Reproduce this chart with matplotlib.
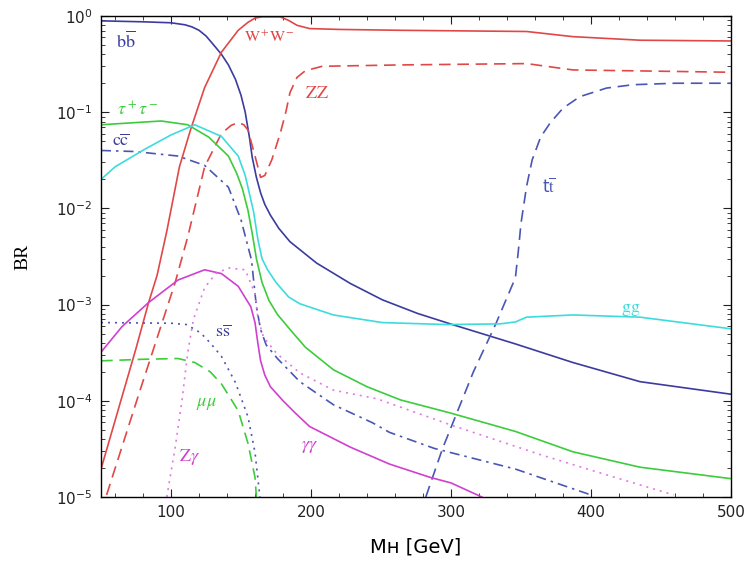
import numpy as np
import matplotlib.pyplot as plt
from matplotlib.ticker import MultipleLocator, LogLocator, NullFormatter

plt.rcParams['mathtext.fontset'] = 'stix'

# --- data (MH in GeV, branching ratio) ---
bb_x = [50, 80, 100, 110, 115, 120, 125, 129, 132, 136, 141, 146, 150, 153, 156, 158, 161, 164, 167, 171, 177, 185, 204, 228,
        251, 276, 301, 346, 387, 435, 500]
bb_y = [0.89, 0.87, 0.85, 0.81, 0.77, 0.71, 0.62, 0.53, 0.47, 0.40, 0.31, 0.22, 0.15, 0.1, 0.055, 0.034, 0.021, 0.0145, 0.011,
        0.0085, 0.0062, 0.0045, 0.0027, 0.00166, 0.00112, 0.00081, 0.00062, 0.00039, 0.00025, 0.000158, 0.000117]

ww_x = [50, 75, 84, 90, 97, 106, 114, 124, 136, 148, 155, 160, 165, 178, 184, 190, 199, 220, 264, 354, 387, 435, 500]
ww_y = [1.95e-5, 3.5e-4, 1.05e-3, 2.0e-3, 5.8e-3, 0.027, 0.066, 0.18, 0.42, 0.71, 0.86, 0.95, 0.98, 0.98, 0.9, 0.8, 0.74,
        0.725, 0.71, 0.69, 0.61, 0.56, 0.55]

zz_x = [54, 78, 103, 112, 124, 136, 143, 148, 152, 155, 160, 164, 167, 172, 178, 182, 185, 190, 196, 208, 264, 354, 387, 500]
zz_y = [1.05e-5, 1.3e-4, 1.7e-3, 5.1e-3, 0.027, 0.06, 0.073, 0.078, 0.074, 0.065, 0.035, 0.021, 0.022, 0.032, 0.06, 0.1, 0.16,
        0.23, 0.27, 0.30, 0.31, 0.32, 0.275, 0.26]

tt_x = [282, 294, 316, 332, 346, 348, 350, 354, 358, 364, 371, 380, 392, 411, 430, 460, 500]
tt_y = [1.0e-5, 3.2e-5, 2.0e-4, 6.3e-4, 1.9e-3, 3.5e-3, 7e-3, 0.017, 0.032, 0.055, 0.078, 0.11, 0.145, 0.178, 0.193, 0.2, 0.2]

tau_x = [50, 93, 112, 127, 141, 147, 151, 155, 158, 161, 165, 170, 176, 186, 196, 216, 240, 264, 299, 346, 387, 435, 500]
tau_y = [0.074, 0.081, 0.074, 0.055, 0.035, 0.023, 0.016, 0.0095, 0.0055, 0.003, 0.0017, 0.0011, 7.9e-4, 5.3e-4, 3.6e-4,
         2.1e-4, 1.4e-4, 1.02e-4, 7.5e-5, 4.8e-5, 2.95e-5, 2.04e-5, 1.55e-5]

cc_x = [50, 74, 105, 124, 141, 150, 157.5, 161, 164, 168, 176, 192, 216, 244, 256, 288, 346, 400]
cc_y = [0.04, 0.039, 0.035, 0.028, 0.0166, 0.0076, 0.0029, 0.00095, 5.5e-4, 3.8e-4, 2.75e-4, 1.58e-4, 9.1e-5, 5.9e-5, 4.7e-5,
        3.2e-5, 1.95e-5, 1.05e-5]

gg_x = [50, 60, 81, 100, 117, 136, 148, 153, 159, 162, 165, 169, 175, 184, 192, 216, 251, 297, 335, 346, 354, 387, 435, 500]
gg_y = [0.02, 0.027, 0.041, 0.058, 0.074, 0.056, 0.035, 0.022, 0.0092, 0.0048, 0.003, 0.0023, 0.0017, 0.0012, 0.00102, 7.8e-4,
        6.5e-4, 6.2e-4, 6.3e-4, 6.6e-4, 7.4e-4, 7.8e-4, 7.4e-4, 5.6e-4]

gamgam_x = [50, 65, 84, 105, 124, 136, 148, 157, 160, 162, 164, 167, 171, 180, 189, 199, 228, 256, 285, 300, 322]
gamgam_y = [3.2e-4, 5.9e-4, 1.05e-3, 1.8e-3, 2.3e-3, 2.1e-3, 1.55e-3, 9.5e-4, 6.5e-4, 4.0e-4, 2.6e-4, 1.85e-4, 1.4e-4, 1.0e-4,
            7.4e-5, 5.4e-5, 3.3e-5, 2.2e-5, 1.6e-5, 1.4e-5, 1.0e-5]

zgam_x = [97, 103, 107.6, 112, 116, 124, 132, 141, 153, 160, 162, 166, 175.5, 192, 216, 247, 300, 364, 411, 459]
zgam_y = [1e-5, 3.3e-5, 9.5e-5, 3.2e-4, 7.0e-4, 1.5e-3, 2.1e-3, 2.4e-3, 2.3e-3, 1.3e-3, 7.4e-4, 4.6e-4, 3.1e-4, 1.95e-4,
          1.29e-4, 1.05e-4, 5.6e-5, 2.75e-5, 1.7e-5, 1.05e-5]

mumu_x = [50, 80, 105, 117, 128, 136, 148, 155, 160, 161]
mumu_y = [2.6e-4, 2.7e-4, 2.75e-4, 2.5e-4, 2.0e-4, 1.5e-4, 7.9e-5, 3.6e-5, 1.6e-5, 1e-5]

ss_x = [50, 100, 111, 121, 128, 136, 146, 155, 160, 163.5]
ss_y = [6.5e-4, 6.4e-4, 6.2e-4, 5.1e-4, 4.0e-4, 2.9e-4, 1.55e-4, 6.8e-5, 2.9e-5, 1e-5]

navy = '#3b3ba0'
red = '#e04848'
blue2 = '#4a56b4'
green = '#3ccc3c'
cyan = '#3cdcdc'
magenta = '#d040d0'
pink = '#e07ae0'

fig = plt.figure(figsize=(7.46, 5.65), dpi=100)
ax = fig.add_axes([0.1354, 0.1204, 0.8445, 0.8513])

lw = 1.2
ax.plot(bb_x, bb_y, color=navy, lw=lw)
ax.plot(ww_x, ww_y, color=red, lw=lw)
ax.plot(zz_x, zz_y, color=red, lw=lw, dashes=(7, 4))
ax.plot(tt_x, tt_y, color=blue2, lw=lw, dashes=(7, 4))
ax.plot(tau_x, tau_y, color=green, lw=lw)
ax.plot(cc_x, cc_y, color=blue2, lw=lw, dashes=(6, 3, 1.5, 3))
ax.plot(gg_x, gg_y, color=cyan, lw=lw)
ax.plot(gamgam_x, gamgam_y, color=magenta, lw=lw)
ax.plot(zgam_x, zgam_y, color=pink, lw=lw, dashes=(1.2, 3))
ax.plot(mumu_x, mumu_y, color=green, lw=lw, dashes=(7, 4))
ax.plot(ss_x, ss_y, color=blue2, lw=lw, dashes=(1.2, 3))

ax.set_yscale('log')
ax.set_xlim(50, 500)
ax.set_ylim(1e-5, 1)

ax.xaxis.set_major_locator(MultipleLocator(100))
ax.xaxis.set_minor_locator(MultipleLocator(20))
ax.yaxis.set_major_locator(LogLocator(base=10, numticks=10))
ax.yaxis.set_minor_locator(LogLocator(base=10, subs=np.arange(2, 10), numticks=10))
ax.yaxis.set_minor_formatter(NullFormatter())
ax.tick_params(which='both', direction='in', top=True, right=True, labelsize=11, colors='#222222')
ax.tick_params(which='major', length=6, pad=6)
ax.tick_params(which='minor', length=3)
for s in ax.spines.values():
    s.set_linewidth(1.0)

ax.set_xlabel('Mʜ [GeV]', fontsize=14)
ax.xaxis.set_label_coords(0.5, -0.085)
ax.set_ylabel('BR', fontsize=14, family='Liberation Serif')
ax.yaxis.set_label_coords(-0.11, 0.5)

lab = dict(fontsize=13, ha='center', va='center')
ax.text(68, 0.55, r'$\mathrm{b\overline{b}}$', color=navy, **lab)
ax.text(170, 0.6, r'$\mathrm{W^+\!W^-}$', color=red, fontsize=11.5, ha='center', va='center')
ax.text(204, 0.158, r'$\mathrm{ZZ}$', color=red, **lab)
ax.text(76, 0.105, r'$\tau^+\tau^-$', color=green, **lab)
ax.text(64, 0.05, r'$\mathrm{c\overline{c}}$', color=navy, **lab)
ax.text(370, 0.0166, r't$\overline{\rm t}$', color=blue2, fontsize=12, ha='center', va='center')
ax.text(428, 8.9e-4, r'$\mathrm{gg}$', color=cyan, **lab)
ax.text(137, 5.2e-4, r'$\mathrm{s\overline{s}}$', color=navy, **lab)
ax.text(125, 9.5e-5, r'$\mu\mu$', color=green, **lab)
ax.text(113, 2.6e-5, r'$\mathrm{Z}\gamma$', color=magenta, **lab)
ax.text(199, 3.4e-5, r'$\gamma\gamma$', color=magenta, **lab)

fig.savefig('out.png', dpi=100)
